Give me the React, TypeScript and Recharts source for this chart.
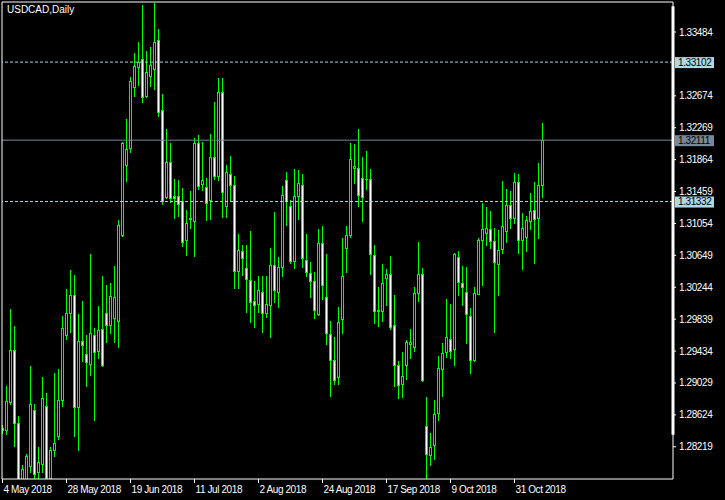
import { ComposedChart, Bar, XAxis, YAxis, ReferenceLine } from "recharts";

// USDCAD daily, 4 May 2018 .. 9 Nov 2018
const opens = [
  1.2846, 1.28426, 1.2879, 1.29451, 1.2852, 1.2779, 1.2779, 1.27981, 1.28685, 1.27893,
  1.27999, 1.28736, 1.27829, 1.28181, 1.28355, 1.28807, 1.29632, 1.29911, 1.30145, 1.28718,
  1.29561, 1.29396, 1.29269, 1.29637, 1.29434, 1.29713, 1.29917, 1.29764, 1.29853, 1.29815,
  1.30907, 1.31796, 1.32012, 1.32786, 1.3304, 1.33136, 1.32672, 1.32926, 1.33015, 1.33383,
  1.32494, 1.31384, 1.31834, 1.31402, 1.31402, 1.31339, 1.30843, 1.31105, 1.31085, 1.32075,
  1.31554, 1.31516, 1.31351, 1.31897, 1.31656, 1.32723, 1.31275, 1.31681, 1.31542, 1.3045,
  1.30704, 1.30488, 1.30336, 1.30069, 1.30031, 1.30183, 1.29917, 1.30018, 1.30526, 1.30183,
  1.30501, 1.31605, 1.31275, 1.30577, 1.31402, 1.31542, 1.30589, 1.30424, 1.30323, 1.29904,
  1.30805, 1.3012, 1.2965, 1.2932, 1.29104, 1.2984, 1.30742, 1.30907, 1.31758, 1.31758,
  1.31631, 1.31616, 1.31618, 1.30653, 1.29955, 1.29942, 1.30361, 1.30412, 1.29764, 1.29256,
  1.29015, 1.29256, 1.29523, 1.29485, 1.3017, 1.30412, 1.28482, 1.28114, 1.28241, 1.28647,
  1.29206, 1.29421, 1.29581, 1.29459, 1.30628, 1.30297, 1.30183, 1.29878, 1.2932, 1.30158,
  1.30843, 1.30932, 1.30983, 1.30831, 1.30539, 1.30729, 1.30958, 1.31288, 1.31123, 1.3158,
  1.30843, 1.30882, 1.31085, 1.31224, 1.31123, 1.31542,
];
const highs = [
  1.28498, 1.28993, 1.29971, 1.29746, 1.28613, 1.2799, 1.2813, 1.29247, 1.28765, 1.28219,
  1.29108, 1.28905, 1.28219, 1.29159, 1.29209, 1.29882, 1.30225, 1.30466, 1.30403, 1.29908,
  1.30073, 1.29641, 1.30669, 1.2973, 1.30009, 1.3039, 1.30276, 1.30301, 1.30517, 1.31101,
  1.32085, 1.32384, 1.32913, 1.33222, 1.33361, 1.33831, 1.33247, 1.33298, 1.33856, 1.33526,
  1.32701, 1.32257, 1.32075, 1.31622, 1.31609, 1.31507, 1.31228, 1.31469, 1.32142, 1.3218,
  1.32088, 1.31631, 1.32193, 1.32599, 1.32904, 1.32904, 1.318, 1.31914, 1.31656, 1.3092,
  1.30784, 1.3078, 1.30958, 1.30323, 1.3039, 1.3039, 1.3039, 1.30746, 1.31203, 1.30631,
  1.31529, 1.31707, 1.31351, 1.31745, 1.31732, 1.31685, 1.3092, 1.30564, 1.30437, 1.30983,
  1.31021, 1.30666, 1.29815, 1.29612, 1.29993, 1.30869, 1.31021, 1.32075, 1.32066, 1.32257,
  1.31897, 1.31977, 1.31745, 1.3078, 1.30247, 1.30539, 1.30475, 1.30644, 1.30145, 1.29307,
  1.29421, 1.29574, 1.29713, 1.30247, 1.30818, 1.30488, 1.2885, 1.28393, 1.28812, 1.29371,
  1.29536, 1.30094, 1.30031, 1.30678, 1.30704, 1.30513, 1.30501, 1.2998, 1.30247, 1.30869,
  1.31313, 1.31262, 1.31212, 1.30996, 1.3097, 1.31592, 1.31491, 1.31466, 1.31694, 1.31681,
  1.31186, 1.31148, 1.3144, 1.3158, 1.31821, 1.32329,
];
const lows = [
  1.28397, 1.28384, 1.28756, 1.28235, 1.277, 1.2773, 1.2776, 1.27905, 1.27787, 1.2779,
  1.27905, 1.2778, 1.27795, 1.28105, 1.28321, 1.28743, 1.29581, 1.2967, 1.2835, 1.28172,
  1.29302, 1.28985, 1.29133, 1.28553, 1.2934, 1.29247, 1.29548, 1.29663, 1.29548, 1.2948,
  1.30898, 1.31587, 1.31956, 1.32676, 1.32811, 1.32591, 1.32659, 1.32803, 1.32764, 1.32418,
  1.31295, 1.3138, 1.31321, 1.31118, 1.31143, 1.30762, 1.30648, 1.30991, 1.30635, 1.31491,
  1.31482, 1.31097, 1.3111, 1.31613, 1.31605, 1.31135, 1.31135, 1.31339, 1.30234, 1.30234,
  1.30399, 1.29929, 1.29797, 1.29734, 1.29929, 1.2967, 1.29866, 1.29607, 1.30056, 1.29993,
  1.30381, 1.31029, 1.30551, 1.30483, 1.31114, 1.30496, 1.30381, 1.3012, 1.29853, 1.29891,
  1.30094, 1.29518, 1.28858, 1.29015, 1.29015, 1.29663, 1.30437, 1.30882, 1.31567, 1.31275,
  1.31085, 1.31491, 1.30412, 1.2979, 1.29751, 1.29815, 1.30018, 1.29713, 1.2899, 1.28837,
  1.2885, 1.29079, 1.29345, 1.29434, 1.30069, 1.29057, 1.27822, 1.27987, 1.28063, 1.28558,
  1.2886, 1.29353, 1.2934, 1.29251, 1.30145, 1.30018, 1.29536, 1.29155, 1.29307, 1.30156,
  1.30272, 1.3078, 1.30742, 1.29675, 1.30145, 1.30678, 1.30818, 1.30996, 1.31059, 1.30678,
  1.30475, 1.30704, 1.30983, 1.30551, 1.30869, 1.31389,
];
const closes = [
  1.28435, 1.28799, 1.29451, 1.2852, 1.2778, 1.27936, 1.28101, 1.28761, 1.27876, 1.28032,
  1.28837, 1.27829, 1.28181, 1.28266, 1.28812, 1.29726, 1.29917, 1.30145, 1.28718, 1.29561,
  1.2951, 1.29289, 1.29663, 1.29421, 1.29701, 1.29251, 1.29764, 1.30136, 1.30124, 1.31034,
  1.32075, 1.31999, 1.32862, 1.33053, 1.33107, 1.32659, 1.32977, 1.33065, 1.33357, 1.32469,
  1.31339, 1.31834, 1.31377, 1.31372, 1.313, 1.30818, 1.31059, 1.31127, 1.32075, 1.31529,
  1.31605, 1.31317, 1.31897, 1.31656, 1.32723, 1.31453, 1.31707, 1.31542, 1.3045, 1.30716,
  1.30615, 1.30348, 1.30056, 1.30018, 1.30209, 1.29917, 1.30031, 1.30526, 1.30209, 1.30501,
  1.31415, 1.31339, 1.30577, 1.31402, 1.31567, 1.30615, 1.30437, 1.30323, 1.29955, 1.30805,
  1.30272, 1.29663, 1.2932, 1.29066, 1.29802, 1.30386, 1.30907, 1.31872, 1.31783, 1.31415,
  1.31389, 1.31618, 1.30666, 1.29942, 1.29942, 1.30297, 1.30412, 1.29739, 1.29256, 1.29002,
  1.29117, 1.29548, 1.29548, 1.3017, 1.30412, 1.29066, 1.28126, 1.28215, 1.28634, 1.29218,
  1.29409, 1.29607, 1.29434, 1.30666, 1.3031, 1.30247, 1.29904, 1.2932, 1.3017, 1.30843,
  1.30983, 1.30996, 1.30831, 1.30564, 1.30716, 1.31021, 1.31288, 1.31123, 1.3158, 1.30843,
  1.30996, 1.31097, 1.31212, 1.3111, 1.31542, 1.32111,
];

const tickIndex = [0, 16, 32, 48, 64, 80, 96, 112, 128];
const tickLabels = [
  "4 May 2018", "28 May 2018", "19 Jun 2018", "11 Jul 2018", "2 Aug 2018",
  "24 Aug 2018", "17 Sep 2018", "9 Oct 2018", "31 Oct 2018",
];
const priceTicks = [
  1.33484, 1.32674, 1.32269, 1.31864, 1.31459, 1.31054, 1.30649,
  1.30244, 1.29839, 1.29434, 1.29029, 1.28624, 1.28219,
];

const upperLevel = 1.33102;
const lowerLevel = 1.31332;
const bidLevel = 1.32111;

const X_MIN = -0.125;
const X_MAX = 167.625;
const Y_MIN = 1.2781;
const Y_MAX = 1.33865;

const GREEN = "#00ff00";
const FONT = "'Liberation Sans', Arial, sans-serif";

const data = opens.map((o, i) => ({
  idx: i,
  open: o,
  high: highs[i],
  low: lows[i],
  close: closes[i],
  range: [lows[i], highs[i]],
}));

function Candle(props: any) {
  const { x, y, width, height, payload } = props;
  const { open, close, high, low } = payload;
  const k = height / (high - low);
  const cx = x + width / 2;
  const yo = y + (high - open) * k;
  const yc = y + (high - close) * k;
  const top = Math.round(Math.min(yo, yc)) + 0.5;
  const bottom = Math.round(Math.max(yo, yc)) + 0.5;
  const bear = close < open;
  return (
    <g shapeRendering="crispEdges">
      <line x1={cx} x2={cx} y1={Math.round(y)} y2={Math.round(y + height) + 1} stroke={GREEN} />
      {bottom - top < 1 ? (
        <line x1={cx - 1.5} x2={cx + 1.5} y1={top} y2={top} stroke={GREEN} />
      ) : (
        <rect
          x={cx - 1}
          y={top}
          width={2}
          height={bottom - top}
          fill={bear ? "#ffffff" : "#000000"}
          stroke={GREEN}
        />
      )}
    </g>
  );
}

function PriceTick(props: any) {
  const { x, y, payload } = props;
  return (
    <g>
      <line x1={x} x2={x + 3} y1={y} y2={y} stroke="#fff" />
      <text x={x + 6} y={y + 3.5} fill="#fff" fontSize={10} fontFamily={FONT} letterSpacing={-0.4}>
        {payload.value.toFixed(5)}
      </text>
    </g>
  );
}

function DateTick(props: any) {
  const { x, y, payload } = props;
  const label = tickLabels[tickIndex.indexOf(payload.value)];
  return (
    <g>
      <line x1={x} x2={x} y1={y} y2={y + 4} stroke="#fff" />
      <text x={x + 1} y={y + 13.5} fill="#fff" fontSize={10} fontFamily={FONT} letterSpacing={-0.4}>
        {label}
      </text>
    </g>
  );
}

function PriceTag(props: any) {
  const { viewBox, text, bg } = props;
  const left = viewBox.x + viewBox.width + 2;
  const ly = viewBox.y;
  return (
    <g>
      <rect x={left} y={ly - 5} width={39} height={11} fill={bg} />
      <text x={left + 3} y={ly + 3.5} fill="#000" fontSize={10} fontFamily={FONT} letterSpacing={-0.4}>
        {text}
      </text>
    </g>
  );
}

function Title(props: any) {
  const { viewBox } = props;
  return (
    <text x={viewBox.x + 5} y={viewBox.y + 11} fill="#fff" fontSize={10} fontFamily={FONT}>
      USDCAD,Daily
    </text>
  );
}

export default function App() {
  return (
    <div style={{ position: "absolute", left: 0, top: 0, width: 725, height: 500, background: "#000" }}>
      <ComposedChart
        width={725}
        height={500}
        data={data}
        margin={{ top: 2, right: 0, bottom: 0, left: 2 }}
        style={{ background: "#000" }}
      >
        <XAxis
          dataKey="idx"
          type="number"
          domain={[X_MIN, X_MAX]}
          allowDataOverflow
          ticks={tickIndex}
          tick={<DateTick />}
          tickLine={false}
          tickSize={0}
          tickMargin={0}
          height={21}
          axisLine={{ stroke: "#fff" }}
          interval={0}
        />
        <YAxis
          orientation="right"
          type="number"
          domain={[Y_MIN, Y_MAX]}
          allowDataOverflow
          ticks={priceTicks}
          tick={<PriceTick />}
          tickLine={false}
          tickSize={0}
          tickMargin={0}
          width={52}
          axisLine={{ stroke: "#fff" }}
          interval={0}
        />
        <ReferenceLine y={upperLevel} stroke="#add8e6" strokeDasharray="3 2" label={<PriceTag text="1.33102" bg="#add8e6" />} />
        <ReferenceLine y={lowerLevel} stroke="#add8e6" strokeDasharray="3 2" label={<PriceTag text="1.31332" bg="#add8e6" />} />
        <ReferenceLine y={bidLevel} stroke="#778899" label={<PriceTag text="1.32111" bg="#778899" />} />
        <Bar
          dataKey="range"
          barSize={3}
          shape={<Candle />}
          isAnimationActive={false}
        />
        <ReferenceLine y={Y_MAX} stroke="#fff" label={<Title />} />
        <ReferenceLine x={X_MIN} stroke="#fff" />
        <ReferenceLine
          segment={[{ x: X_MAX, y: 1.3381 }, { x: X_MAX, y: 1.28372 }]}
          stroke="#fff"
          strokeWidth={3}
        />
      </ComposedChart>
    </div>
  );
}
